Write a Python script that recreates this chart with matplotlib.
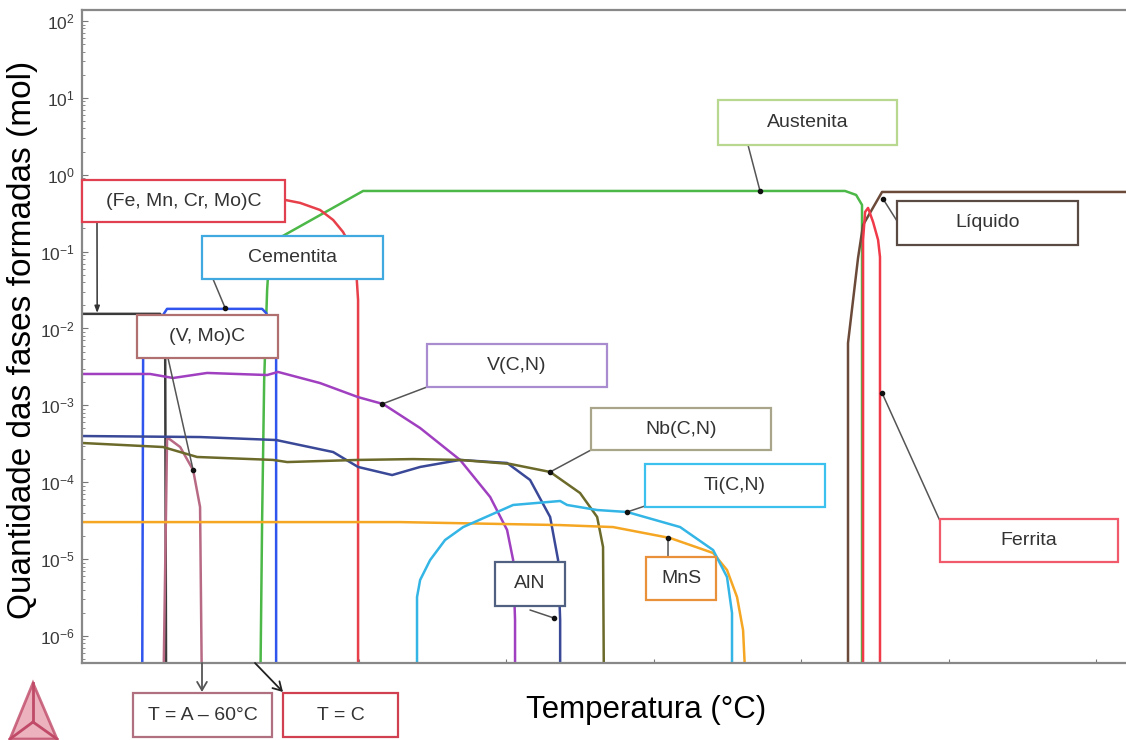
import numpy as np
import matplotlib.pyplot as plt
from matplotlib.patches import Rectangle, Polygon

plt.rcParams['font.family'] = ['Liberation Sans', 'DejaVu Sans']

W, H = 1126, 740

BOT = 1e-7

aust_T = [932.8, 934.2, 935.6, 937.6, 939.6, 1002.7, 1329.7, 1337.2, 1341.2, 1341.2]
aust_n = [BOT, 3.22e-5, 2.14e-3, 0.0317, 0.129, 0.615, 0.615, 0.546, 0.405, BOT]

m3c_T = [812, 949.8, 960.0, 973.5, 982.4, 989.1, 993.9, 998.0, 999.3, 999.3]
m3c_n = [0.530, 0.470, 0.430, 0.348, 0.258, 0.180, 0.122, 0.0577, 0.0235, BOT]

cem_T = [852.8, 853.5, 861.6, 867.0, 869.7, 934.2, 936.9, 943.7, 943.7]
cem_n = [BOT, 0.0061, 0.0111, 0.0150, 0.0180, 0.0180, 0.0159, 0.00823, BOT]

blk_T = [812, 865.0, 868.4, 869.1]
blk_n = [0.0155, 0.0155, 0.00955, BOT]

vmo_T = [867.0, 869.7, 870.4, 878.6, 887.4, 892.1, 893.5]
vmo_n = [BOT, 3.54e-4, 3.76e-4, 2.87e-4, 1.44e-4, 4.76e-5, BOT]

vcn_T = [812, 858.2, 873.8, 896.9, 937.6, 945.0, 973.5, 999.3, 1016.3, 1041.4,
         1068.5, 1088.9, 1100.4, 1104.5, 1105.8, 1105.8]
vcn_n = [2.56e-3, 2.56e-3, 2.27e-3, 2.64e-3, 2.48e-3, 2.72e-3, 1.95e-3, 1.28e-3,
         1.04e-3, 5.07e-4, 1.95e-4, 6.43e-5, 2.39e-5, 9.73e-6, 1.61e-6, BOT]

aln_T = [812, 892.1, 943.7, 982.4, 999.3, 1022.4, 1041.4, 1068.5, 1100.4,
         1116.0, 1129.6, 1135.0, 1136.4, 1136.4]
aln_n = [3.99e-4, 3.87e-4, 3.54e-4, 2.47e-4, 1.58e-4, 1.24e-4, 1.58e-4, 1.95e-4,
         1.78e-4, 1.07e-4, 3.53e-5, 9.73e-6, 1.61e-6, BOT]

nb_T = [812, 867.0, 890.1, 941.7, 951.2, 999.3, 1036.6, 1068.5, 1102.4, 1129.6,
        1149.9, 1161.5, 1165.5, 1166.2]
nb_n = [3.24e-4, 2.87e-4, 2.13e-4, 1.95e-4, 1.83e-4, 1.95e-4, 2.00e-4, 1.95e-4,
        1.73e-4, 1.36e-4, 7.24e-5, 3.53e-5, 1.44e-5, BOT]

mns_T = [812, 1027.8, 1136.4, 1172.3, 1211.0, 1240.2, 1249.6, 1256.4, 1260.5, 1263.2]
mns_n = [3.03e-5, 3.03e-5, 2.77e-5, 2.61e-5, 1.88e-5, 1.20e-5, 7.21e-6, 3.21e-6,
         1.19e-6, BOT]

ti_T = [1039.3, 1039.3, 1041.4, 1048.2, 1058.3, 1070.6, 1104.5, 1136.4, 1141.1,
        1161.5, 1181.8, 1217.8, 1240.2, 1249.6, 1253.0, 1253.0]
ti_n = [BOT, 3.21e-6, 5.35e-6, 9.73e-6, 1.77e-5, 2.61e-5, 5.06e-5, 5.70e-5, 5.06e-5,
        4.35e-5, 4.10e-5, 2.61e-5, 1.31e-5, 5.85e-6, 1.99e-6, BOT]

liq_T = [1331.7, 1331.7, 1338.5, 1341.9, 1354.8, 1520.3]
liq_n = [BOT, 0.00647, 0.0826, 0.222, 0.597, 0.597]

fer_T = [1341.9, 1341.9, 1343.3, 1345.3, 1348.7, 1352.1, 1353.4, 1353.4]
fer_n = [BOT, 0.142, 0.328, 0.370, 0.243, 0.142, 0.0851, BOT]


def fp(x, y):
    # pixel (a partir do canto superior esquerdo) -> fração da figura
    return (x / W, 1 - y / H)


fig = plt.figure(figsize=(W / 100, H / 100), dpi=100)
ax = fig.add_axes([82 / W, 1 - 663 / H, (W - 82) / W, (663 - 10) / H])

lw = 1.8
ax.plot(aust_T, aust_n, color='#4cb848', lw=lw)
ax.plot(m3c_T, m3c_n, color='#e8404a', lw=lw)
ax.plot(cem_T, cem_n, color='#2f55ee', lw=lw)
ax.plot(blk_T, blk_n, color='#3a3a3a', lw=lw)
ax.plot(vmo_T, vmo_n, color='#b86a84', lw=lw)
ax.plot(vcn_T, vcn_n, color='#a040c0', lw=lw)
ax.plot(aln_T, aln_n, color='#3a4898', lw=lw)
ax.plot(nb_T, nb_n, color='#6b6a2a', lw=lw)
ax.plot(mns_T, mns_n, color='#f5a623', lw=lw)
ax.plot(ti_T, ti_n, color='#33b5e5', lw=lw)
ax.plot(liq_T, liq_n, color='#6b4a3a', lw=lw)
ax.plot(fer_T, fer_n, color='#f03a4a', lw=lw)

ax.set_yscale('log')
ax.set_xlim(812, 1520.3)
ax.set_ylim(4.45e-7, 139)
ax.set_yticks([10.0 ** k for k in range(-6, 3)])
ax.set_xticks([1000, 1100, 1200, 1300, 1400, 1500])
ax.set_xticklabels([])
ax.tick_params(axis='both', which='both', direction='in', color='#777777')
ax.tick_params(axis='y', which='major', length=4, labelsize=12.5, labelcolor='#3a3a3a', pad=5)
ax.tick_params(axis='y', which='minor', length=2)
ax.tick_params(axis='x', which='major', length=3)
for s in ['left', 'bottom', 'top']:
    ax.spines[s].set_color('#888888')
    ax.spines[s].set_linewidth(1.6)
ax.spines['right'].set_visible(False)

fig.text(*fp(23, 340), 'Quantidade das fases formadas (mol)', rotation=90,
         ha='center', va='center', fontsize=24)
fig.text(*fp(646, 710), 'Temperatura (°C)', ha='center', va='center', fontsize=22.5)


def caixa(x0, y0, x1, y1, texto, cor):
    fig.patches.append(Rectangle(fp(x0, y1), (x1 - x0) / W, (y1 - y0) / H,
                                 transform=fig.transFigure, facecolor='white',
                                 edgecolor=cor, lw=1.6, zorder=5))
    fig.text(*fp((x0 + x1) / 2, (y0 + y1) / 2), texto, ha='center', va='center',
             fontsize=14, color='#333333', zorder=6)


def guia(px, py, T, n, estilo='-', cor='#555555'):
    ax.annotate('', xy=(T, n), xycoords='data', xytext=fp(px, py),
                textcoords='figure fraction',
                arrowprops=dict(arrowstyle=estilo, color=cor, lw=1.1,
                                shrinkA=0, shrinkB=0), zorder=4)
    if estilo == '-':
        ax.plot([T], [n], 'o', color='#111111', ms=3, zorder=4)


# linhas de chamada
guia(97, 222, 822.3, 0.0159, estilo='-|>,head_length=0.4,head_width=0.15', cor='#333333')
guia(213, 279, 909.1, 0.0185)
guia(168, 358, 887.4, 1.44e-4)
guia(427, 387, 1015.6, 1.04e-3)
guia(591, 450, 1129.6, 1.36e-4)
guia(645, 506, 1181.8, 4.10e-5)
guia(530, 610, 1132.3, 1.71e-6)
guia(668, 557, 1209.6, 1.88e-5)
guia(748, 145, 1272.0, 0.615)
guia(897, 221, 1355.5, 0.484)
guia(940, 521, 1354.8, 1.45e-3)

ax.annotate('', xy=fp(202, 692), xycoords='figure fraction', xytext=fp(202, 663),
            textcoords='figure fraction', annotation_clip=False,
            arrowprops=dict(arrowstyle='->,head_length=0.6,head_width=0.35',
                            color='#555555', lw=1.3, shrinkA=0, shrinkB=0))
ax.annotate('', xy=fp(283, 692), xycoords='figure fraction', xytext=fp(255, 663),
            textcoords='figure fraction', annotation_clip=False,
            arrowprops=dict(arrowstyle='->,head_length=0.6,head_width=0.35',
                            color='#222222', lw=1.3, shrinkA=0, shrinkB=0))

caixa(82, 180, 285, 222, '(Fe, Mn, Cr, Mo)C', '#e04050')
caixa(202, 236, 383, 279, 'Cementita', '#3fa9e0')
caixa(137, 315, 278, 358, '(V, Mo)C', '#b07070')
caixa(427, 344, 607, 387, 'V(C,N)', '#a98bd0')
caixa(591, 408, 771, 450, 'Nb(C,N)', '#a8a58a')
caixa(645, 464, 825, 507, 'Ti(C,N)', '#3cc0ee')
caixa(495, 562, 565, 606, 'AlN', '#506080')
caixa(646, 557, 716, 600, 'MnS', '#e8903a')
caixa(718, 100, 897, 145, 'Austenita', '#b8d890')
caixa(897, 201, 1078, 245, 'Líquido', '#5a4a44')
caixa(940, 519, 1118, 562, 'Ferrita', '#f05a6a')
caixa(133, 693, 272, 737, 'T = A – 60°C', '#b07080')
caixa(283, 693, 398, 737, 'T = C', '#d04050')

# logotipo (triângulo)
tri = [fp(33, 683), fp(10, 739), fp(57, 739)]
fig.patches.append(Polygon(tri, closed=True, transform=fig.transFigure,
                           facecolor='#e8a0b0', edgecolor='#c04a68', lw=2, alpha=0.8))
cx, cy = fp(33, 722)
for vx, vy in tri:
    fig.lines.append(plt.Line2D([vx, cx], [vy, cy], transform=fig.transFigure,
                                color='#c04a68', lw=2))

fig.savefig('out.png', dpi=100)
